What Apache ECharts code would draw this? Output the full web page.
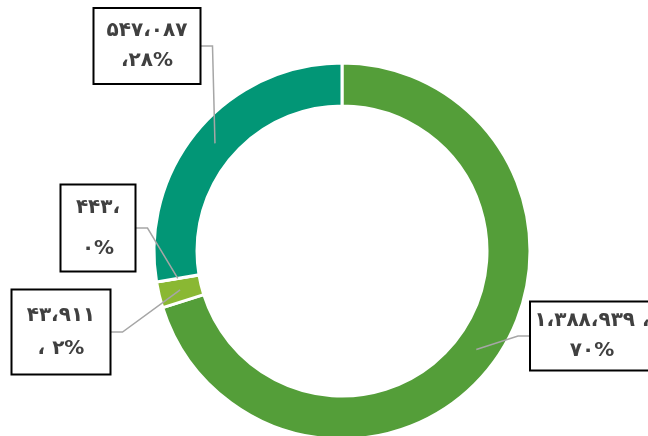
<!DOCTYPE html>
<html>
<head>
<meta charset="utf-8">
<script src="https://cdn.jsdelivr.net/npm/echarts@6/dist/echarts.min.js"></script>
<style>
html,body{margin:0;padding:0;background:#fff;}
#main{width:648px;height:436px;}
</style>
</head>
<body>
<div id="main"></div>
<script>
// Data
var categories = ['A', 'B', 'C', 'D'];
var values = [1388939, 43911, 443, 547087];
var valueText = ['۱،۳۸۸،۹۳۹ ،', '۴۳،۹۱۱', '۴۴۳،', '۵۴۷،۰۸۷'];
var percentText = ['۷۰%', '، ۲%', '۰%', '،۲۸%'];

// Styles / layout (not data)
var colors = ['#549E39', '#8AB833', '#C0CF3A', '#029676'];
var pieCenter = [342, 251];
var innerR = 145, outerR = 188;
var labelCenters = [[592, 336], [61, 332], [98, 228], [147, 46]];
var labelBoxes = [[122, 67], [97, 83], [73, 85], [105, 74]];
var labelLineHeights = [30, 33, 41, 30];
var labelSide = ['left', 'right', 'right', 'right']; // edge of box where leader line attaches
var leaderStub = 13;

var chart = echarts.init(document.getElementById('main'), null, {renderer: 'canvas'});

// ring series (sectors only)
var ringData = values.map(function (v, i) {
  return {name: categories[i], value: v, itemStyle: {color: colors[i]}};
});

// overlay series (same values, transparent sectors) carrying labels + leader lines above the ring
var labelData = values.map(function (v, i) {
  var w = labelBoxes[i][0], h = labelBoxes[i][1], lh = labelLineHeights[i];
  var padV = Math.max(0, (h - 2 * lh) / 2);
  return {
    name: categories[i],
    value: v,
    label: {
      formatter: valueText[i] + '\n' + percentText[i],
      width: w - 4,
      lineHeight: lh,
      padding: [padV, 2, padV, 2]
    }
  };
});

chart.setOption({
  animation: false,
  series: [{
    type: 'pie',
    z: 1,
    center: pieCenter,
    radius: [innerR, outerR],
    startAngle: 90,
    clockwise: true,
    silent: true,
    itemStyle: {borderColor: '#fff', borderWidth: 3},
    label: {show: false},
    labelLine: {show: false},
    data: ringData
  }, {
    type: 'pie',
    z: 5,
    center: pieCenter,
    radius: [innerR, outerR],
    startAngle: 90,
    clockwise: true,
    silent: true,
    avoidLabelOverlap: false,
    itemStyle: {color: 'rgba(0,0,0,0)', borderWidth: 0},
    label: {
      show: true,
      position: 'outside',
      fontFamily: 'DejaVu Sans',
      fontWeight: 'bold',
      fontSize: 20,
      color: '#404040',
      align: 'center',
      backgroundColor: '#fff',
      borderColor: '#000',
      borderWidth: 2
    },
    labelLine: {
      show: true,
      showAbove: true,
      length: 15,
      length2: 13,
      lineStyle: {color: '#a6a6a6', width: 1.5}
    },
    labelLayout: function (params) {
      var i = params.dataIndex;
      var c = labelCenters[i];
      var res = {x: c[0], y: c[1], align: 'center', verticalAlign: 'middle'};
      var pts = params.labelLinePoints;
      if (pts && pts.length) {
        var p0 = pts[0];
        var dx = p0[0] - pieCenter[0], dy = p0[1] - pieCenter[1];
        var d = Math.sqrt(dx * dx + dy * dy) || 1;
        var midR = (innerR + outerR) / 2;
        var anchor = [pieCenter[0] + dx / d * midR, pieCenter[1] + dy / d * midR];
        var halfW = labelBoxes[i][0] / 2;
        var edgeX = labelSide[i] === 'left' ? c[0] - halfW : c[0] + halfW;
        var stubX = labelSide[i] === 'left' ? edgeX - leaderStub : edgeX + leaderStub;
        res.labelLinePoints = [anchor, [stubX, c[1]], [edgeX, c[1]]];
      }
      return res;
    },
    data: labelData
  }]
});
</script>
</body>
</html>
